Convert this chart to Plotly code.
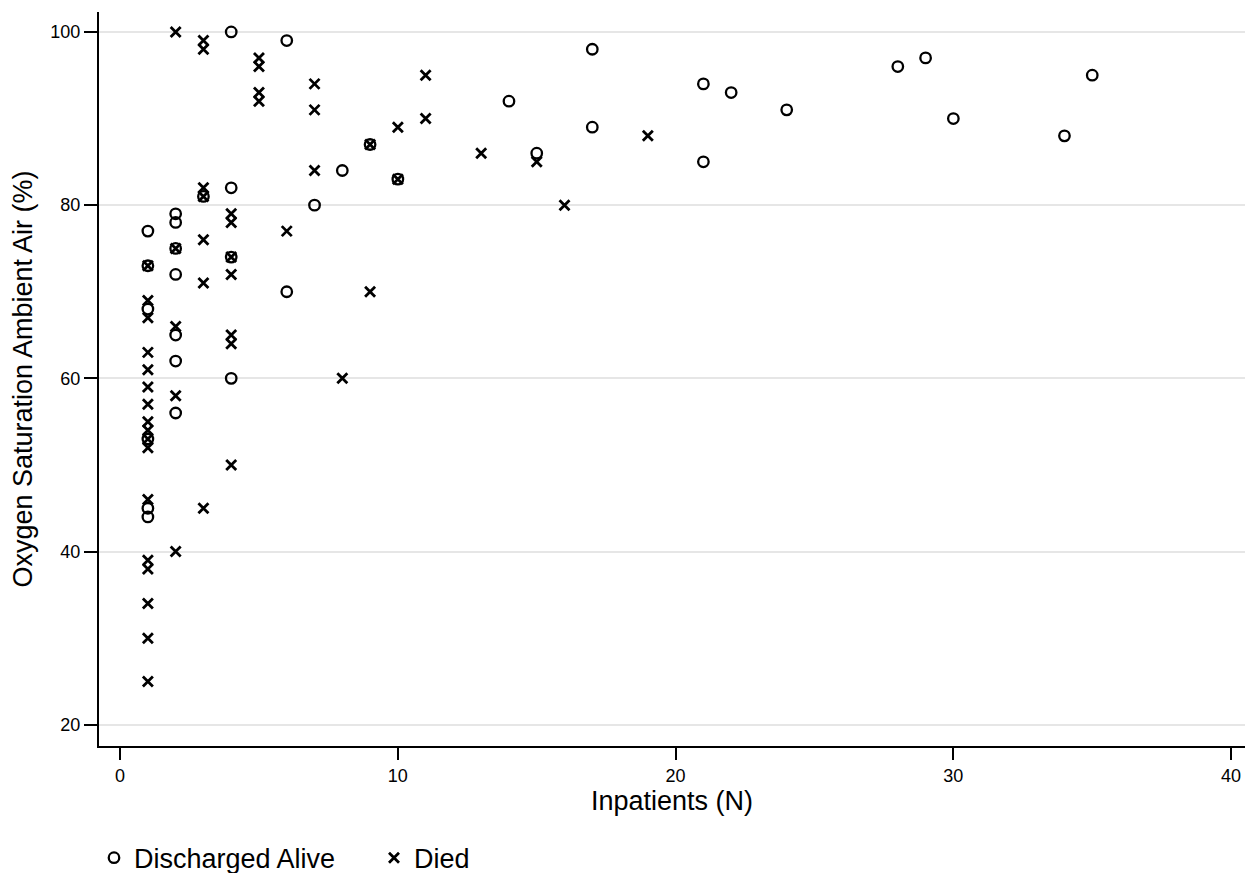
import plotly.graph_objects as go

# Discharged Alive (circles)
alive_x = [1, 1, 1, 1, 1, 1,
           2, 2, 2, 2, 2, 2, 2,
           3,
           4, 4, 4, 4,
           6, 6, 7, 8, 9, 10, 14, 15, 17, 17,
           21, 21, 22, 24, 28, 29, 30, 34, 35]
alive_y = [77, 73, 68, 53, 45, 44,
           79, 78, 75, 72, 65, 62, 56,
           81,
           100, 82, 74, 60,
           99, 70, 80, 84, 87, 83, 92, 86, 98, 89,
           94, 85, 93, 91, 96, 97, 90, 88, 95]

# Died (x markers)
died_x = [1] * 17 + [2] * 5 + [3] * 7 + [4] * 7 + [5] * 4 + \
         [6, 7, 7, 7, 8, 9, 9, 10, 10, 11, 11, 13, 15, 16, 19]
died_y = [73, 69, 67, 63, 61, 59, 57, 55, 54, 53, 52, 46, 39, 38, 34, 30, 25,
          100, 75, 66, 58, 40,
          99, 98, 82, 81, 76, 71, 45,
          79, 78, 74, 72, 65, 64, 50,
          97, 96, 93, 92,
          77, 94, 91, 84, 60, 87, 70, 89, 83, 95, 90, 86, 85, 80, 88]

x_ticks = [0, 10, 20, 30, 40]
y_ticks = [20, 40, 60, 80, 100]

FONT = "Liberation Sans, Arial, sans-serif"

fig = go.Figure()
fig.add_trace(go.Scatter(
    x=alive_x, y=alive_y, mode="markers", name="Discharged Alive",
    marker=dict(symbol="circle-open", size=10.5, color="black",
                line=dict(width=2.3, color="black")),
))
fig.add_trace(go.Scatter(
    x=died_x, y=died_y, mode="markers", name="Died",
    marker=dict(symbol="x-thin-open", size=10, color="black",
                line=dict(width=2.8, color="black")),
))

fig.update_layout(
    width=1245, height=873,
    margin=dict(l=99, r=0, t=12, b=127),
    paper_bgcolor="white", plot_bgcolor="white",
    font=dict(family=FONT, color="black"),
    showlegend=True,
    legend=dict(orientation="h", xref="container", yref="container",
                x=0.0755, y=0.017, xanchor="left", yanchor="middle",
                font=dict(size=27, family=FONT, color="black"),
                itemsizing="trace", itemwidth=30, tracegroupgap=0,
                entrywidth=235, entrywidthmode="pixels",
                bgcolor="rgba(0,0,0,0)"),
    xaxis=dict(range=[-0.76, 40.5], tickvals=x_ticks,
               ticks="outside", ticklen=12, tickwidth=2, tickcolor="black",
               showline=True, linewidth=2, linecolor="black",
               showgrid=False, zeroline=False,
               tickfont=dict(size=18, family=FONT, color="black"),
               title=dict(text="Inpatients (N)", standoff=2,
                          font=dict(size=27, family=FONT, color="black"))),
    yaxis=dict(range=[17.55, 102.3], tickvals=y_ticks,
               ticks="outside", ticklen=13, tickwidth=2, tickcolor="black",
               showline=True, linewidth=2, linecolor="black",
               showgrid=True, gridcolor="#e6e6e6", gridwidth=2,
               zeroline=False,
               tickfont=dict(size=18, family=FONT, color="black"),
               title=dict(text="Oxygen Saturation Ambient Air (%)", standoff=10,
                          font=dict(size=27, family=FONT, color="black"))),
)

fig.write_html("out.html",
               config={"displayModeBar": False},
               post_script="document.body.style.margin='0';"
                           "document.body.style.overflow='hidden';")
